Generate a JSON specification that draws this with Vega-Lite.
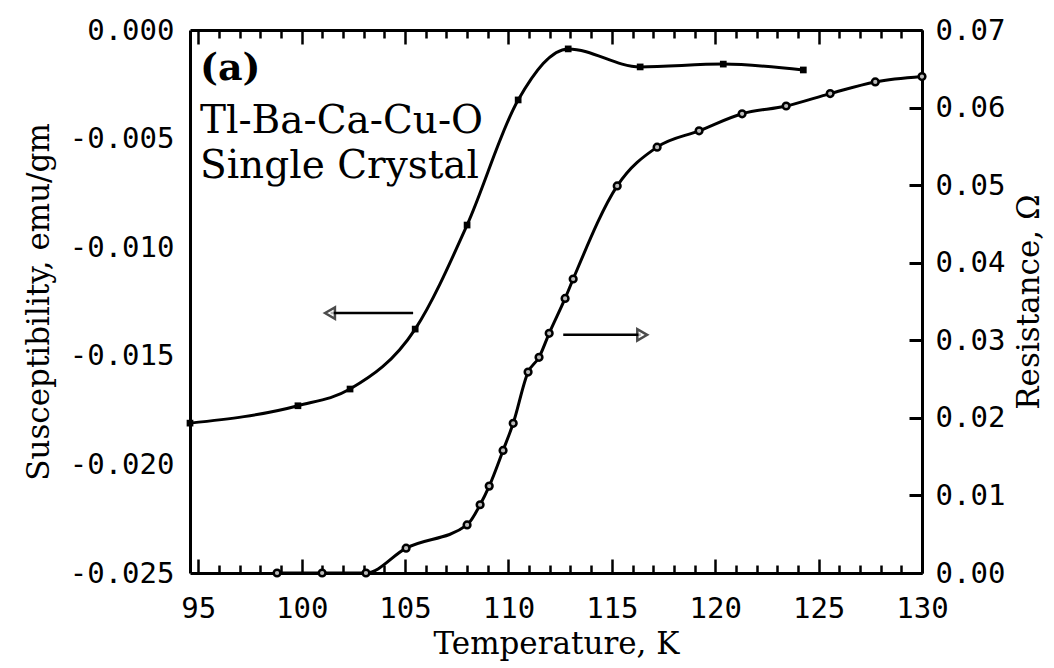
{
  "$schema": "https://vega.github.io/schema/vega-lite/v6.json",
  "width": 732,
  "height": 543,
  "autosize": {"type": "none"},
  "padding": {"left": 190, "top": 30, "right": 132, "bottom": 95},
  "background": "white",
  "config": {
    "view": {"stroke": null},
    "axis": {
      "domainColor": "black",
      "domainWidth": 3,
      "tickColor": "black",
      "tickWidth": 2.5,
      "grid": false,
      "labelFont": "DejaVu Sans Mono",
      "labelFontSize": 29,
      "labelColor": "black",
      "titleFont": "DejaVu Serif",
      "titleFontSize": 31,
      "titleFontWeight": "normal",
      "titleColor": "black"
    }
  },
  "resolve": {"scale": {"y": "independent"}, "axis": {"x": "independent", "y": "independent"}},
  "layer": [
    {
      "encoding": {
        "x": {
          "field": "T",
          "type": "quantitative",
          "scale": {"domain": [94.6, 130], "nice": false, "zero": false},
          "axis": {
            "orient": "bottom",
            "values": [95,96,97,98,99,100,101,102,103,104,105,106,107,108,109,110,111,112,113,114,115,116,117,118,119,120,121,122,123,124,125,126,127,128,129,130],
            "tickSize": {"condition": {"test": "datum.value % 5 === 0", "value": -14}, "value": -8},
            "labelExpr": "datum.value % 5 === 0 ? datum.label : ''",
            "labelPadding": 35,
            "labelFlush": false,
            "title": "Temperature, K",
            "titlePadding": 6
          }
        }
      },
      "layer": [
        {
          "data": {"values": [
            {"T": 94.6, "V": -0.0181},
            {"T": 99.82, "V": -0.0173},
            {"T": 102.34, "V": -0.01653},
            {"T": 105.49, "V": -0.01377},
            {"T": 108.0, "V": -0.00898},
            {"T": 110.47, "V": -0.00322},
            {"T": 112.89, "V": -0.00087},
            {"T": 116.37, "V": -0.0017},
            {"T": 120.39, "V": -0.00157},
            {"T": 124.26, "V": -0.00184}
          ]},
          "mark": {"type": "line", "color": "black", "strokeWidth": 3, "interpolate": "monotone", "point": {"shape": "square", "filled": true, "color": "black", "size": 45}},
          "encoding": {
            "y": {
              "field": "V",
              "type": "quantitative",
              "scale": {"domain": [-0.025, 0], "nice": false, "zero": false},
              "axis": {
                "orient": "left",
                "values": [-0.025, -0.02, -0.015, -0.01, -0.005, 0],
                "format": ".3f",
                "labelExpr": "replace(datum.label, '−', '-')",
                "ticks": false,
                "labelPadding": 16,
                "title": "Susceptibility, emu/gm",
                "titlePadding": 14
              }
            }
          }
        },
        {
          "data": {"values": [
            {"T": 95.08, "V": -0.0023, "label": "(a)"}
          ]},
          "mark": {"type": "text", "align": "left", "baseline": "alphabetic", "font": "DejaVu Serif", "fontSize": 38, "fontWeight": "bold", "color": "black"},
          "encoding": {
            "y": {"field": "V", "type": "quantitative"},
            "text": {"field": "label"}
          }
        },
        {
          "data": {"values": [
            {"T": 95.08, "V": -0.00474, "label": "Tl-Ba-Ca-Cu-O"},
            {"T": 95.08, "V": -0.00681, "label": "Single Crystal"}
          ]},
          "mark": {"type": "text", "align": "left", "baseline": "alphabetic", "font": "DejaVu Serif", "fontSize": 39, "fontWeight": "normal", "color": "black"},
          "encoding": {
            "y": {"field": "V", "type": "quantitative"},
            "text": {"field": "label"}
          }
        },
        {
          "data": {"values": [{"T": 101.4, "T2": 105.39, "V": -0.01303}]},
          "mark": {"type": "rule", "color": "black", "strokeWidth": 2.5},
          "encoding": {
            "x2": {"field": "T2"},
            "y": {"field": "V", "type": "quantitative"}
          }
        },
        {
          "data": {"values": [{"T": 101.37, "V": -0.01303}]},
          "mark": {"type": "point", "shape": "triangle-left", "filled": true, "fill": "white", "stroke": "black", "strokeWidth": 2.5, "size": 130},
          "encoding": {
            "y": {"field": "V", "type": "quantitative"}
          }
        }
      ]
    },
    {
      "encoding": {
        "x": {
          "field": "T",
          "type": "quantitative",
          "scale": {"domain": [94.6, 130], "nice": false, "zero": false},
          "axis": {
            "orient": "top",
            "values": [95,96,97,98,99,100,101,102,103,104,105,106,107,108,109,110,111,112,113,114,115,116,117,118,119,120,121,122,123,124,125,126,127,128,129,130],
            "tickSize": {"condition": {"test": "datum.value % 5 === 0", "value": -14}, "value": -8},
            "labels": false,
            "title": null
          }
        }
      },
      "layer": [
        {
          "data": {"values": [
            {"T": 98.81, "R": 0.0},
            {"T": 100.99, "R": 0.0},
            {"T": 103.11, "R": 0.0},
            {"T": 105.05, "R": 0.0032},
            {"T": 108.0, "R": 0.0062},
            {"T": 108.63, "R": 0.0088},
            {"T": 109.07, "R": 0.0112},
            {"T": 109.74, "R": 0.0158},
            {"T": 110.23, "R": 0.0193},
            {"T": 110.95, "R": 0.0259},
            {"T": 111.48, "R": 0.0278},
            {"T": 111.97, "R": 0.0309},
            {"T": 112.74, "R": 0.0354},
            {"T": 113.13, "R": 0.0379},
            {"T": 115.26, "R": 0.0499},
            {"T": 117.19, "R": 0.0549},
            {"T": 119.22, "R": 0.057},
            {"T": 121.3, "R": 0.0592},
            {"T": 123.43, "R": 0.0602},
            {"T": 125.56, "R": 0.0618},
            {"T": 127.74, "R": 0.0633},
            {"T": 130.0, "R": 0.064}
          ]},
          "mark": {"type": "line", "color": "black", "strokeWidth": 3, "interpolate": "monotone", "point": {"shape": "circle", "filled": true, "fill": "#bbbbbb", "stroke": "black", "strokeWidth": 2.5, "size": 45}},
          "encoding": {
            "y": {
              "field": "R",
              "type": "quantitative",
              "scale": {"domain": [0, 0.07], "nice": false, "zero": false},
              "axis": {
                "orient": "right",
                "values": [0, 0.01, 0.02, 0.03, 0.04, 0.05, 0.06, 0.07],
                "format": ".2f",
                "tickSize": -13,
                "tickWidth": 3,
                "labelPadding": 26,
                "title": "Resistance, Ω",
                "titleAngle": 270,
                "titleBaseline": "top",
                "titlePadding": 10
              }
            }
          }
        },
        {
          "data": {"values": [{"T": 112.65, "T2": 116.4, "R": 0.0307}]},
          "mark": {"type": "rule", "color": "black", "strokeWidth": 2.5},
          "encoding": {
            "x2": {"field": "T2"},
            "y": {"field": "R", "type": "quantitative"}
          }
        },
        {
          "data": {"values": [{"T": 116.47, "R": 0.0307}]},
          "mark": {"type": "point", "shape": "triangle-right", "filled": true, "fill": "white", "stroke": "black", "strokeWidth": 2.5, "size": 130},
          "encoding": {
            "y": {"field": "R", "type": "quantitative"}
          }
        }
      ]
    }
  ]
}
